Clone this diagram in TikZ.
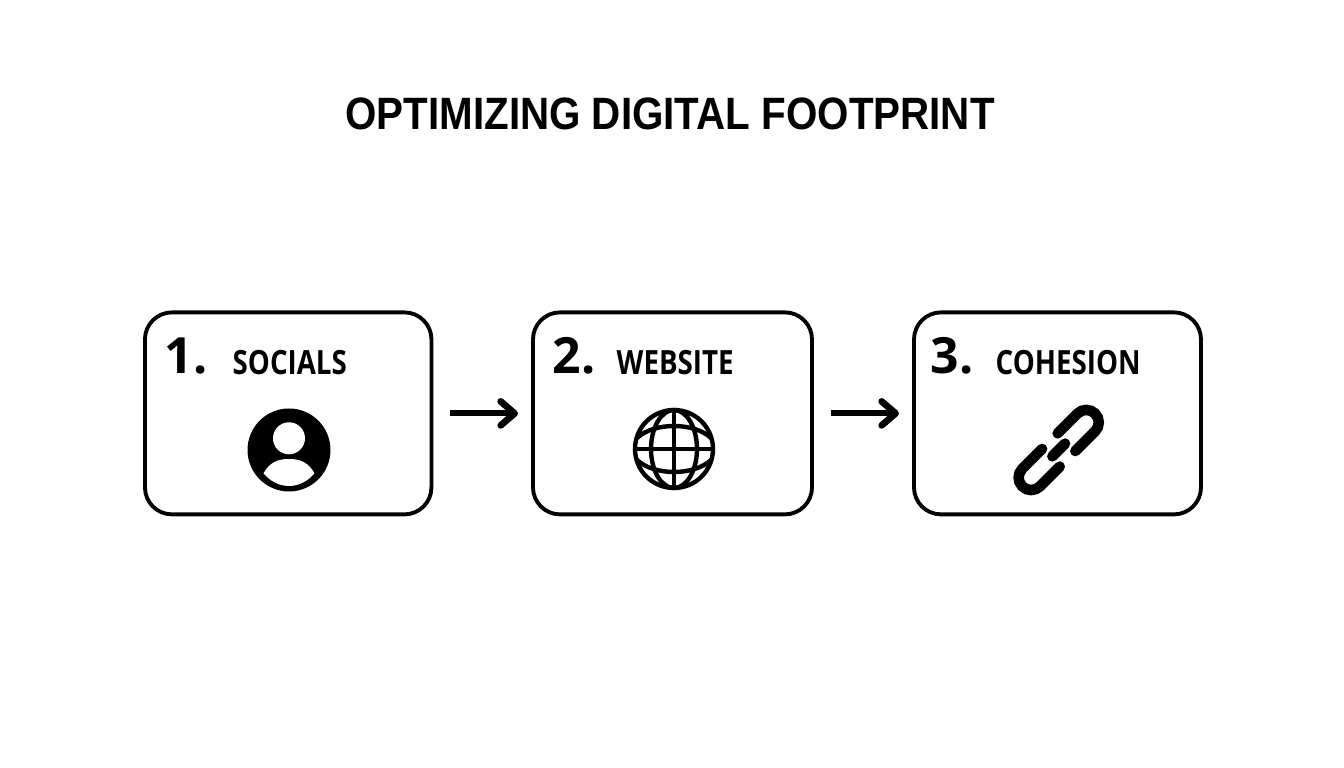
\documentclass[tikz,border=0pt]{standalone}
\usepackage{fontspec}
\setmainfont{Open Sans}
\newfontfamily\titlefont[FakeStretch=0.89]{Liberation Sans}
\newfontfamily\labelfont[FakeStretch=0.83]{Open Sans}
\usetikzlibrary{arrows.meta}
\usetikzlibrary{positioning}

\tikzset{
  stepbox/.style={draw=black, line width=1.1pt, rounded corners=0.27cm, outer sep=0pt, minimum height=2.02cm},
  stepnum/.style={anchor=base west, inner sep=0pt, font=\fontsize{14.2}{16}\selectfont\bfseries},
  steplabel/.style={anchor=base west, inner sep=0pt, font=\labelfont\fontsize{9.5}{12}\selectfont\bfseries},
  flowarrow/.style={line width=1.7pt, -{Straight Barb[length=1.4mm,width=2.4mm,line width=1.9pt,round]}, shorten <=0.19cm, shorten >=0.15cm},
  iconline/.style={line width=1.25pt, line cap=round},
}

\begin{document}
\begin{tikzpicture}

\useasboundingbox (0,0) rectangle (13.44,7.68);

\node (title) at (6.70,6.54) {\titlefont\fontsize{12.9}{16}\selectfont\bfseries OPTIMIZING DIGITAL FOOTPRINT};

% boxes
\node (socials) [stepbox, minimum width=2.865cm] at (2.882,3.546) {};
\node (website) [stepbox, minimum width=2.79cm] at (6.725,3.546) {};
\node (cohesion) [stepbox, minimum width=2.87cm] at (10.575,3.546) {};

\draw [flowarrow] (socials) -- (website);
\draw [flowarrow] (website) -- (cohesion);

% numbers and labels
\node (num1) [stepnum] at (1.64,3.94) {1.};
\node (lab1) [steplabel] at (2.32,3.93) {SOCIALS};
\node (num2) [stepnum] at (5.52,3.94) {2.};
\node (lab2) [steplabel] at (6.16,3.93) {WEBSITE};
\node (num3) [stepnum] at (9.30,3.94) {3.};
\node (lab3) [steplabel] at (9.95,3.93) {COHESION};

% person
\fill (2.89,3.18) circle (0.415);
\fill [white] (2.89,3.297) circle (0.16);
\fill [white] (2.635,2.947) .. controls (2.70,3.06) and (2.78,3.09) .. (2.89,3.09)
    .. controls (3.00,3.09) and (3.08,3.06) .. (3.145,2.947)
    .. controls (3.08,2.87) and (2.99,2.82) .. (2.89,2.82)
    .. controls (2.79,2.82) and (2.70,2.87) .. (2.635,2.947);

% globe
\begin{scope}[shift={(6.74,3.19)}]
  \draw [iconline] (0,0) circle (0.39);
  \draw [iconline] (0,0) ellipse (0.23 and 0.39);
  \draw [iconline] (0,-0.39) -- (0,0.39);
  \draw [iconline] (-0.39,0) -- (0.39,0);
  \draw [iconline] (-0.37,0.11) .. controls (-0.2,0.27) and (0.2,0.27) .. (0.37,0.11);
  \draw [iconline] (-0.37,-0.11) .. controls (-0.2,-0.27) and (0.2,-0.27) .. (0.37,-0.11);
\end{scope}

% chain
\begin{scope}[shift={(10.587,3.18)}, rotate=45, line width=3pt, line cap=round]
  \draw (0.11,0.125) -- (0.39,0.125) arc (90:-90:0.125) -- (0.11,-0.125);
  \draw (-0.11,-0.125) -- (-0.39,-0.125) arc (270:90:0.125) -- (-0.11,0.125);
  \draw (-0.09,0) -- (0.09,0);
\end{scope}

\end{tikzpicture}
\end{document}
